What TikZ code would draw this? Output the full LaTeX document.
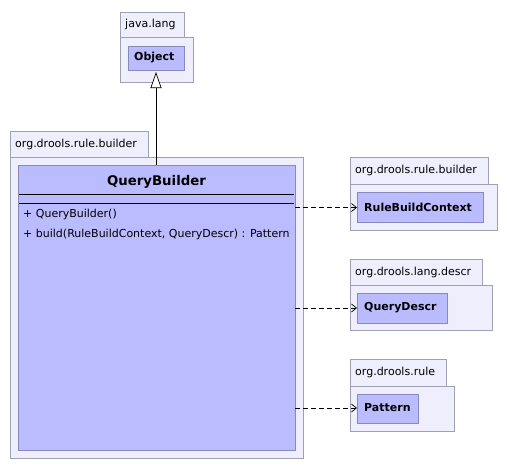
\documentclass[tikz,border=0pt]{standalone}
\usepackage{fontspec}
\setmainfont{DejaVu Sans}
\usetikzlibrary{arrows.meta}
\definecolor{pkgfill}{RGB}{238,238,252}
\definecolor{pkgdraw}{RGB}{160,160,180}
\definecolor{clsfill}{RGB}{187,187,255}
\definecolor{clsdraw}{RGB}{136,136,187}
\tikzset{
  pkg/.style={draw=pkgdraw, fill=pkgfill, line width=0.8pt},
  cls/.style={draw=clsdraw, fill=clsfill, line width=0.8pt},
  pkglabel/.style={anchor=west, font=\fontsize{11}{13}\selectfont, inner sep=0pt},
  clsname/.style={font=\bfseries\fontsize{11}{13}\selectfont, anchor=west, inner sep=0pt},
  dep/.style={dashed, dash pattern=on 5pt off 3pt, line width=0.7pt, -{Straight Barb[length=5pt,width=8pt]}},
  gen/.style={line width=0.7pt, -{Triangle[open, length=16pt, width=11pt, fill=white]}}
}
\begin{document}
\begin{tikzpicture}[x=1pt, y=-1pt]
\useasboundingbox (0,0) rectangle (510,469);
% java.lang
\draw[pkg] (120,12) rectangle (184,37);
\draw[pkg] (120,37) rectangle (193,82);
\node[pkglabel] (pjl) at (125,24.5) {java.lang};
\draw[cls] (128,46) rectangle (184,70);
\node[clsname] (objname) at (134,58) {Object};
\coordinate (objbot) at (156,72);
% main package
\draw[pkg] (10,131) rectangle (148,157);
\draw[pkg] (10,157) rectangle (303,458);
\node[pkglabel] (pmain) at (15,144) {org.drools.rule.builder};
\draw[cls] (18,165) rectangle (295,450);
\node[font=\bfseries\fontsize{13.3}{15}\selectfont, inner sep=0pt] (qbname) at (156.5,182) {QueryBuilder};
\draw[line width=0.8pt] (19,194) -- (294,194);
\draw[line width=0.8pt] (19,203) -- (294,203);
\node[pkglabel] (m1) at (23,214.5) {+ QueryBuilder()};
\node[pkglabel] (m2) at (23,234) {+ build(RuleBuildContext, QueryDescr) : Pattern};
\coordinate (qbtop) at (156,165);
\coordinate (qbr1) at (295,207.5);
\coordinate (qbr2) at (295,308);
\coordinate (qbr3) at (295,408);
% RuleBuildContext
\draw[pkg] (350,157) rectangle (488,184);
\draw[pkg] (350,184) rectangle (497,230);
\node[pkglabel] (p1) at (355,170.5) {org.drools.rule.builder};
\draw[cls] (357,192) rectangle (483,222);
\node[clsname] (rbc) at (364,207) {RuleBuildContext};
\coordinate (rbcl) at (357,207.5);
% QueryDescr
\draw[pkg] (350,259) rectangle (482,285);
\draw[pkg] (350,285) rectangle (492,330);
\node[pkglabel] (p2) at (355,272) {org.drools.lang.descr};
\draw[cls] (357,293) rectangle (447,323);
\node[clsname] (qd) at (364,308) {QueryDescr};
\coordinate (qdl) at (357,308);
% Pattern
\draw[pkg] (350,359) rectangle (446,386);
\draw[pkg] (350,386) rectangle (454,431);
\node[pkglabel] (p3) at (355,372.5) {org.drools.rule};
\draw[cls] (357,394) rectangle (418,423);
\node[clsname] (pat) at (364,408) {Pattern};
\coordinate (patl) at (357,408);
% connectors
\draw[gen] (qbtop) -- (objbot);
\draw[dep] (qbr1) -- (rbcl);
\draw[dep] (qbr2) -- (qdl);
\draw[dep] (qbr3) -- (patl);
\end{tikzpicture}
\end{document}
